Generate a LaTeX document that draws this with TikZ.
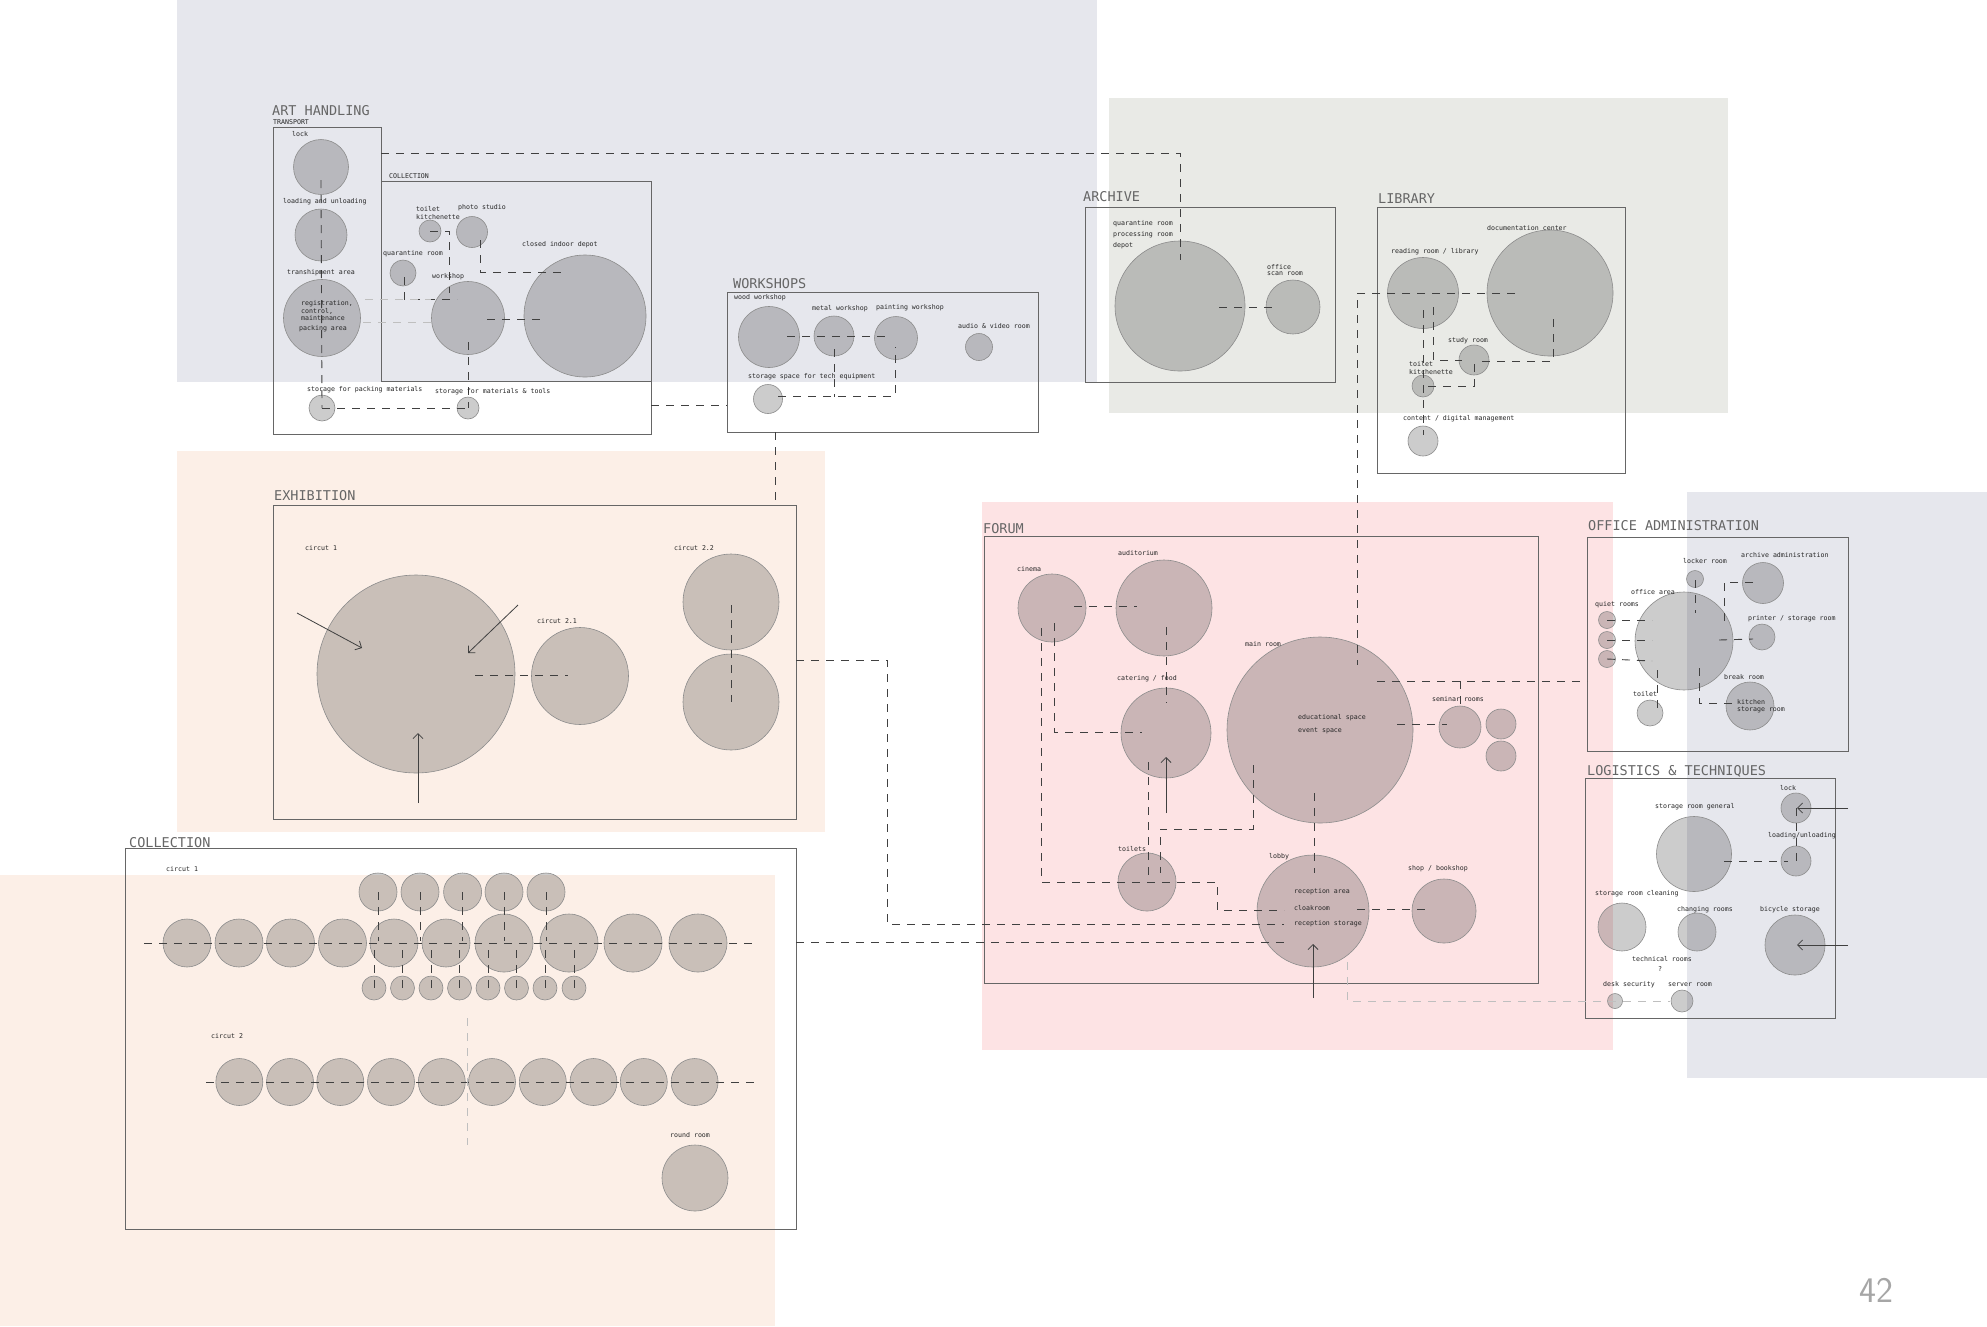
\documentclass[tikz,border=0pt]{standalone}
\usepackage{fontspec}
\usetikzlibrary{arrows.meta,calc}
\newfontfamily\cadfont{DejaVu Sans Mono}
\definecolor{bgblue}{HTML}{E6E7ED}
\definecolor{bggreen}{HTML}{E9EAE6}
\definecolor{bgpeach}{HTML}{FCEFE7}
\definecolor{bgpink}{HTML}{FDE3E4}
\newcommand\lblfont{\cadfont\fontsize{6.6}{7.5}\selectfont}
\newcommand\hdfont{\cadfont\fontsize{13.5}{15}\selectfont}
\begin{document}
\begin{tikzpicture}[x=1pt,y=-1pt,
 room/.style={circle,minimum size=#1,inner sep=0pt,draw=black!45,line width=0.6pt,fill=black,fill opacity=0.2},
 zone/.style={draw=black!60,line width=0.8pt},
 conn/.style={draw=black!75,line width=0.9pt,dash pattern=on 8pt off 7pt},
 faint/.style={draw=black!25,line width=0.9pt,dash pattern=on 8pt off 7pt},
 arr/.style={draw=black!75,line width=0.8pt,-{Straight Barb[length=5pt,width=10pt]}},
 lbl/.style={font=\lblfont,anchor=west,inner sep=0pt,text=black!85},
 head/.style={font=\hdfont,anchor=base west,inner sep=0pt,text=black!60}]
% page and backgrounds
\fill[white] (0,0) rectangle (1987,1326);
\useasboundingbox (0,0) rectangle (1987,1326);
\fill[bgblue] (177,0) rectangle (1097,382);
\fill[bggreen] (1109,98) rectangle (1728,413);
\fill[bgpeach] (177,451) rectangle (825,832);
\fill[bgpeach] (0,875) rectangle (775,1326);
\fill[bgpink] (982,502) rectangle (1613,1050);
\fill[bgblue] (1687,492) rectangle (1987,1078);

% ===== zone frames =====
\draw[zone] (381,181) rectangle (651,381);
\draw[zone] (381,181) -- (381,127) -- (273,127) -- (273,434) -- (651,434) -- (651,381);
\draw[zone] (727,292) rectangle (1038,432);
\draw[zone] (1085,207) rectangle (1335,382);
\draw[zone] (1377,207) rectangle (1625,473);
\draw[zone] (273,505) rectangle (796,819);
\draw[zone] (125,848) rectangle (796,1229);
\draw[zone] (984,536) rectangle (1538,983);
\draw[zone] (1587,537) rectangle (1848,751);
\draw[zone] (1585,778) rectangle (1835,1018);

\coordinate (ahTop) at (381,153);
\coordinate (ahR) at (651,405);
\coordinate (wkL) at (727,405);
\coordinate (wkB) at (775,432);
\coordinate (exT) at (775,505);
\coordinate (exR) at (796,660);
\coordinate (coR) at (796,942);
\coordinate (ofL) at (1587,681);

% ===== ART HANDLING =====
\node[room=55] (ah_lock) at (321,167) {};
\node[room=52] (ah_load) at (321,235) {};
\node[room=77] (ah_reg) at (322,318) {};
\node[room=26] (ah_spack) at (322,408) {};
\node[room=22] (ah_smat) at (468,408) {};
\node[room=22] (ah_toil) at (430,231) {};
\node[room=31] (ah_photo) at (472,232) {};
\node[room=26] (ah_quar) at (403,273) {};
\node[room=73] (ah_work) at (468,318) {};
\node[room=122] (ah_depot) at (585,316) {};

% ===== WORKSHOPS =====
\node[room=61] (wk_wood) at (769,337) {};
\node[room=40] (wk_metal) at (834,336) {};
\node[room=43] (wk_paint) at (896,338) {};
\node[room=27] (wk_audio) at (979,347) {};
\node[room=29] (wk_store) at (768,399) {};

% ===== ARCHIVE =====
\node[room=130] (ar_big) at (1180,306) {};
\node[room=54] (ar_office) at (1293,307) {};

% ===== LIBRARY =====
\node[room=126] (lb_doc) at (1550,293) {};
\node[room=71] (lb_read) at (1423,293) {};
\node[room=30] (lb_study) at (1474,360) {};
\node[room=22] (lb_toil) at (1423,386) {};
\node[room=30] (lb_cont) at (1423,441) {};

% ===== EXHIBITION =====
\node[room=198] (ex_c1) at (416,674) {};
\node[room=97] (ex_c21) at (580,676) {};
\node[room=96] (ex_c22a) at (731,602) {};
\node[room=96] (ex_c22b) at (731,702) {};

% ===== COLLECTION =====
\foreach \x [count=\i] in {187,239,290.5,342.5,394,446} \node[room=48] (cm\i) at (\x,943) {};
\foreach \x [count=\i from 7] in {504,569,633,698} \node[room=58] (cm\i) at (\x,943) {};
\foreach \x [count=\i] in {378,420,462.6,504,546} \node[room=38] (ct\i) at (\x,892) {};
\foreach \x [count=\i] in {374,402.5,431,459.5,488,516.5,545,574} \node[room=24] (cb\i) at (\x,988) {};
\foreach \x [count=\i] in {239.3,290,340.3,391,441.8,492,542.8,593.5,643.8,694.6} \node[room=47] (cr\i) at (\x,1082) {};
\node[room=66] (co_round) at (695,1178) {};

% ===== FORUM =====
\node[room=68] (fo_cin) at (1052,608) {};
\node[room=96] (fo_aud) at (1164,608) {};
\node[room=90] (fo_cat) at (1166,733) {};
\node[room=186] (fo_main) at (1320,730) {};
\node[room=42] (fo_sem1) at (1460,727) {};
\node[room=30] (fo_sem2) at (1501,724) {};
\node[room=30] (fo_sem3) at (1501,756) {};
\node[room=58] (fo_toil) at (1147,882) {};
\node[room=112] (fo_lobby) at (1313,911) {};
\node[room=64] (fo_shop) at (1444,911) {};

% ===== OFFICE ADMINISTRATION =====
\node[room=17] (of_locker) at (1695,579) {};
\node[room=41] (of_arch) at (1763,583) {};
\node[room=98] (of_office) at (1684,641) {};
\node[room=17] (of_q1) at (1607,620) {};
\node[room=17] (of_q2) at (1607,640) {};
\node[room=17] (of_q3) at (1607,659) {};
\node[room=26] (of_print) at (1762,637) {};
\node[room=48] (of_kitch) at (1750,706) {};
\node[room=26] (of_toil) at (1650,713) {};

% ===== LOGISTICS =====
\node[room=30] (lg_lock) at (1796,808) {};
\node[room=30] (lg_load) at (1796,861) {};
\node[room=75] (lg_store) at (1694,854) {};
\node[room=48] (lg_clean) at (1622,927) {};
\node[room=38] (lg_change) at (1697,932) {};
\node[room=60] (lg_bike) at (1795,945) {};
\node[room=15] (lg_desk) at (1615,1001) {};
\node[room=22] (lg_server) at (1682,1001) {};

% ===== connectors =====
% art handling
\draw[conn] ($(ah_lock.center)+(0,13)$) -- (ah_spack.center);
\draw[conn] (ah_spack.center) -- (ah_smat.center);
\draw[conn] ($(ah_work.center)+(0,24)$) -- (ah_smat.center);
\draw[conn] (ah_toil.center) -| ($(ah_work.center)+(-19,-25)$);
\draw[conn] ($(ah_photo.center)+(8,8)$) |- ($(ah_depot.center)+(-19,-44)$);
\draw[conn] ($(ah_quar.center)+(1,4)$) |- ($(ah_work.center)+(-11,-19)$);
\draw[conn] ($(ah_work.center)+(19,1)$) -- ($(ah_depot.center)+(-42,3)$);
\draw[faint] ($(ah_reg.center)+(43,-19)$) -- ($(ah_work.center)+(-37,-19)$);
\draw[faint] ($(ah_reg.center)+(41,4)$) -- ($(ah_work.center)+(-37,4)$);
\draw[conn] (ahTop) -| ($(ar_big.center)+(0,-46)$);
\draw[conn] (ahR) -- (wkL);
% workshops
\draw[conn] ($(wk_wood.center)+(18,-1)$) -- ($(wk_paint.center)+(-11,-2)$);
\draw[conn] ($(wk_metal.center)+(0,13)$) -- ($(wk_metal.center)+(0,61)$);
\draw[conn] ($(wk_store.center)+(10,-3)$) -| ($(wk_paint.center)+(-1,9)$);
\draw[conn] (wkB) -- (exT);
% archive
\draw[conn] ($(ar_big.center)+(39,1)$) -- ($(ar_office.center)+(-19,0)$);
% library
\draw[conn] ($(lb_doc.center)+(-35,0)$) -| ($(fo_main.center)+(37,-65)$);
\draw[conn] ($(lb_read.center)+(0,17)$) -- ($(lb_cont.center)+(0,-6)$);
\draw[conn] ($(lb_read.center)+(10,14)$) |- ($(lb_study.center)+(-12,0)$);
\draw[conn] ($(lb_study.center)+(8,1)$) -| ($(lb_doc.center)+(3,22)$);
\draw[conn] ($(lb_toil.center)+(5,0)$) -| ($(lb_study.center)+(0,3)$);
% exhibition
\draw[conn] ($(ex_c1.center)+(59,1)$) -- ($(ex_c21.center)+(-12,-1)$);
\draw[conn] ($(ex_c22a.center)+(0,3)$) -- (ex_c22b.center);
\draw[arr] ($(ex_c1.center)+(-119,-61)$) -- ($(ex_c1.center)+(-54,-26)$);
\draw[arr] ($(ex_c1.center)+(102,-69)$) -- ($(ex_c1.center)+(52,-21)$);
\draw[arr] ($(ex_c1.center)+(2,129)$) -- ($(ex_c1.center)+(2,59)$);
\draw[conn] (exR) -| ($(fo_lobby.center)+(-426,13)$) -- ($(fo_lobby.center)+(-29,13)$);
% collection
\draw[conn] (144,943) -- (757,943);
\foreach \i in {1,...,5} \draw[conn] (ct\i.center) -- ($(ct\i.center)+(0,49)$);
\foreach \i in {1,...,8} \draw[conn] ($(cb\i.center)+(0,-38)$) -- (cb\i.center);
\draw[conn] (206,1082) -- (760,1082);
\draw[faint] (467,1018) -- (467,1145);
\draw[conn] (coR) -- ($(fo_lobby.center)+(-29,31)$);
% forum
\draw[conn] ($(fo_cin.center)+(22,-2)$) -- ($(fo_aud.center)+(-27,-2)$);
\draw[conn] ($(fo_cat.center)+(0,-106)$) -- ($(fo_cat.center)+(0,-30)$);
\draw[conn] ($(fo_cin.center)+(2,15)$) |- ($(fo_cat.center)+(-24,-1)$);
\draw[conn] ($(fo_cin.center)+(-11,20)$) |- ($(fo_toil.center)+(70,0)$) |- ($(fo_lobby.center)+(-29,-1)$);
\draw[conn] ($(fo_cat.center)+(-18,29)$) -- ($(fo_toil.center)+(1,-2)$);
\draw[conn] ($(fo_main.center)+(-67,35)$) |- ($(fo_toil.center)+(13,-53)$) -- ($(fo_toil.center)+(13,-9)$);
\draw[conn] ($(fo_main.center)+(-6,63)$) -- ($(fo_lobby.center)+(1,-38)$);
\draw[conn] ($(fo_main.center)+(77,-6)$) -- ($(fo_sem1.center)+(-13,-3)$);
\draw[conn] ($(fo_main.center)+(57,-49)$) -- (ofL);
\draw[conn] ($(fo_sem1.center)+(0,-46)$) -- ($(fo_sem1.center)+(0,-19)$);
\draw[conn] ($(fo_lobby.center)+(44,-2)$) -- ($(fo_shop.center)+(-16,-2)$);
\draw[faint] ($(fo_lobby.center)+(34,51)$) |- ($(lg_server.center)+(-12,0)$);
\draw[arr] ($(fo_cat.center)+(0,80)$) -- ($(fo_cat.center)+(0,24)$);
\draw[arr] ($(fo_lobby.center)+(0,87)$) -- ($(fo_lobby.center)+(0,33)$);
% office
\draw[conn] (of_q1.center) -- ($(of_q1.center)+(45,0)$);
\draw[conn] (of_q2.center) -- ($(of_q2.center)+(45,0)$);
\draw[conn] (of_q3.center) -- ($(of_q3.center)+(45,2)$);
\draw[conn] ($(of_locker.center)+(0,1)$) -- ($(of_locker.center)+(0,34)$);
\draw[conn] ($(of_arch.center)+(-10,-1)$) -| ($(of_office.center)+(40,-14)$);
\draw[conn] ($(of_office.center)+(35,-1)$) -- ($(of_print.center)+(-9,2)$);
\draw[conn] ($(of_office.center)+(-27,29)$) -- ($(of_toil.center)+(7,0)$);
\draw[conn] ($(of_office.center)+(15,27)$) |- ($(of_kitch.center)+(-18,-3)$);
% logistics
\draw[conn] (lg_lock.center) -- (lg_load.center);
\draw[conn] ($(lg_store.center)+(30,7)$) -- ($(lg_load.center)+(-8,0)$);
\draw[arr] ($(lg_lock.center)+(52,0)$) -- ($(lg_lock.center)+(1,0)$);
\draw[arr] ($(lg_bike.center)+(53,0)$) -- ($(lg_bike.center)+(2,0)$);

% ===== headings =====
\node[head] (hAH) at (272,115) {ART HANDLING};
\node[head] (hWK) at (733,288) {WORKSHOPS};
\node[head] (hAR) at (1083,201) {ARCHIVE};
\node[head] (hLB) at (1378,203) {LIBRARY};
\node[head] (hEX) at (274,500) {EXHIBITION};
\node[head] (hCO) at (129,847) {COLLECTION};
\node[head] (hFO) at (983,533) {FORUM};
\node[head] (hOF) at (1588,530) {OFFICE ADMINISTRATION};
\node[head] (hLG) at (1587,775) {LOGISTICS \& TECHNIQUES};

% ===== labels =====
\node[lbl] (a0) at (273,122) {TRANSPORT};
\node[lbl] (a1) at (292,134) {lock};
\node[lbl] (a2) at (283,202) {loading and unloading};
\node[lbl] (a3) at (287,273) {transhipment area};
\node[lbl] (a4) at (301,304) {registration,};
\node[lbl] (a5) at (301,311) {control,};
\node[lbl] (a6) at (301,318) {maintenance};
\node[lbl] (a7) at (299,329) {packing area};
\node[lbl] (a8) at (389,176) {COLLECTION};
\node[lbl] (a9) at (416,209) {toilet};
\node[lbl] (a10) at (416,217) {kitchenette};
\node[lbl] (a11) at (458,208) {photo studio};
\node[lbl] (a12) at (522,245) {closed indoor depot};
\node[lbl] (a13) at (383,254) {quarantine room};
\node[lbl] (a14) at (432,277) {workshop};
\node[lbl] (a15) at (307,390) {storage for packing materials};
\node[lbl] (a16) at (435,392) {storage for materials \& tools};

\node[lbl] (w1) at (734,298) {wood workshop};
\node[lbl] (w2) at (812,309) {metal workshop};
\node[lbl] (w3) at (876,308) {painting workshop};
\node[lbl] (w4) at (958,326) {audio \& video room};
\node[lbl] (w5) at (748,377) {storage space for tech equipment};

\node[lbl] (r1) at (1113,224) {quarantine room};
\node[lbl] (r2) at (1113,235) {processing room};
\node[lbl] (r3) at (1113,246) {depot};
\node[lbl] (r4) at (1267,267) {office};
\node[lbl] (r5) at (1267,274) {scan room};

\node[lbl] (b1) at (1487,228) {documentation center};
\node[lbl] (b2) at (1391,252) {reading room / library};
\node[lbl] (b3) at (1448,341) {study room};
\node[lbl] (b4) at (1409,364) {toilet};
\node[lbl] (b5) at (1409,372) {kitchenette};
\node[lbl] (b6) at (1403,419) {content / digital management};

\node[lbl] (e1) at (305,548) {circut 1};
\node[lbl] (e2) at (537,621) {circut 2.1};
\node[lbl] (e3) at (674,548) {circut 2.2};

\node[lbl] (c1) at (166,869) {circut 1};
\node[lbl] (c2) at (211,1036) {circut 2};
\node[lbl] (c3) at (670,1135) {round room};

\node[lbl] (f1) at (1017,569) {cinema};
\node[lbl] (f2) at (1118,553) {auditorium};
\node[lbl] (f3) at (1117,679) {catering / food};
\node[lbl] (f4) at (1245,644) {main room};
\node[lbl] (f5) at (1298,718) {educational space};
\node[lbl] (f6) at (1298,731) {event space};
\node[lbl] (f7) at (1432,699) {seminar rooms};
\node[lbl] (f8) at (1118,849) {toilets};
\node[lbl] (f9) at (1269,857) {lobby};
\node[lbl] (f10) at (1294,892) {reception area};
\node[lbl] (f11) at (1294,908) {cloakroom};
\node[lbl] (f12) at (1294,924) {reception storage};
\node[lbl] (f13) at (1408,869) {shop / bookshop};

\node[lbl] (o1) at (1683,561) {locker room};
\node[lbl] (o2) at (1741,555) {archive administration};
\node[lbl] (o3) at (1631,592) {office area};
\node[lbl] (o4) at (1595,605) {quiet rooms};
\node[lbl] (o5) at (1748,619) {printer / storage room};
\node[lbl] (o6) at (1724,677) {break room};
\node[lbl] (o7) at (1737,702) {kitchen};
\node[lbl] (o8) at (1737,710) {storage room};
\node[lbl] (o9) at (1633,694) {toilet};

\node[lbl] (g1) at (1780,788) {lock};
\node[lbl] (g2) at (1768,836) {loading/unloading};
\node[lbl] (g3) at (1655,807) {storage room general};
\node[lbl] (g4) at (1595,894) {storage room cleaning};
\node[lbl] (g5) at (1677,910) {changing rooms};
\node[lbl] (g6) at (1760,910) {bicycle storage};
\node[lbl] (g7) at (1632,959) {technical rooms};
\node[lbl] (g8) at (1658,969) {?};
\node[lbl] (g9) at (1603,985) {desk security};
\node[lbl] (g10) at (1668,985) {server room};

\node[font=\sffamily\fontsize{36}{36}\selectfont,text=black!35,anchor=base west,inner sep=0pt] (pg) at (1859,1302) {42};
\end{tikzpicture}
\end{document}
